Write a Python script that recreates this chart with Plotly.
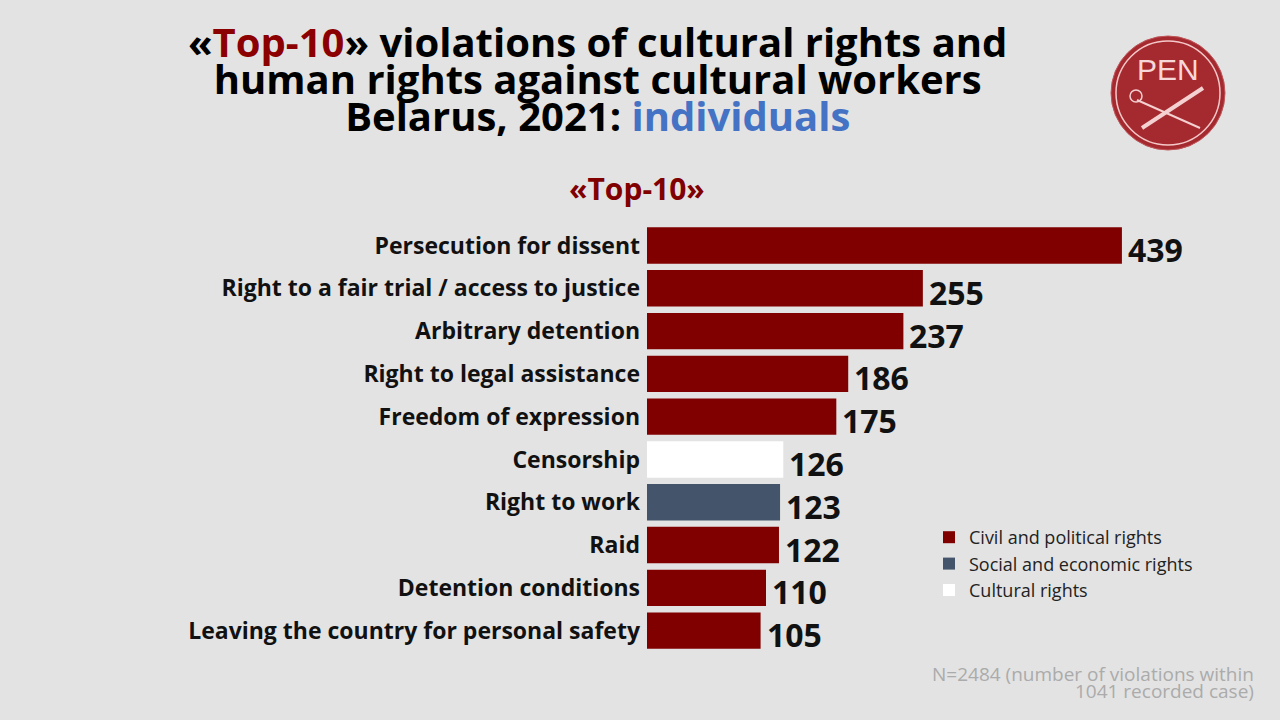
import plotly.graph_objects as go

categories = [
    "Persecution for dissent",
    "Right to a fair trial / access to justice",
    "Arbitrary detention",
    "Right to legal assistance",
    "Freedom of expression",
    "Censorship",
    "Right to work",
    "Raid",
    "Detention conditions",
    "Leaving the country for personal safety",
]
values = [439, 255, 237, 186, 175, 126, 123, 122, 110, 105]
groups = ["civil", "civil", "civil", "civil", "civil", "cultural", "social", "civil", "civil", "civil"]

group_order = ["civil", "social", "cultural"]
group_names = {
    "civil": "Civil and political rights",
    "social": "Social and economic rights",
    "cultural": "Cultural rights",
}
group_colors = {"civil": "#800000", "social": "#44546A", "cultural": "#FFFFFF"}

title_lines = [
    "«<span style='color:#8B0000'>Top-10</span>» violations of cultural rights and",
    "human rights against cultural workers",
    "Belarus, 2021: <span style='color:#4472C4'>individuals</span>",
]
subtitle = "«Top-10»"
footnote_lines = ["N=2484 (number of violations within", "1041 recorded case)"]

FONT = "Open Sans"

W, H = 1280, 720
ML, MR, MT, MB = 647, 38, 218, 68
pw, ph = W - ML - MR, H - MT - MB


def px(x):
    return (x - ML) / pw


def py(y):
    return (H - MB - y) / ph


fig = go.Figure()
for g in group_order:
    ys = [c for c, gg in zip(categories, groups) if gg == g]
    xs = [v for v, gg in zip(values, groups) if gg == g]
    fig.add_trace(go.Bar(
        x=xs, y=ys, orientation="h", name=group_names[g],
        marker=dict(color=group_colors[g], line=dict(width=0)),
        width=0.85, hoverinfo="x+y",
    ))

for c, v in zip(categories, values):
    fig.add_annotation(x=v, y=c, xref="x", yref="y", text=str(v), showarrow=False,
                       xanchor="left", xshift=4, yshift=-4,
                       font=dict(family=FONT, size=32, color="#111111", weight="bold"))

# Title (tight line spacing: small base font, larger inline spans)
title_text = "<br>".join(f"<span style='font-size:40px'>{t}</span>" for t in title_lines)
fig.add_annotation(x=px(597), y=py(78), xref="paper", yref="paper", text=title_text,
                   showarrow=False, xanchor="center", yanchor="middle", align="center",
                   font=dict(family=FONT, size=28.5, color="#000000", weight="bold"))

fig.add_annotation(text=subtitle, x=px(637), y=py(188), xref="paper", yref="paper",
                   showarrow=False, xanchor="center", yanchor="middle",
                   font=dict(family=FONT, size=30, color="#800000", weight="bold"))

foot_text = "<br>".join(f"<span style='font-size:19px'>{t}</span>" for t in footnote_lines)
fig.add_annotation(text=foot_text, x=px(1256), y=py(682), xref="paper", yref="paper",
                   showarrow=False, xanchor="right", yanchor="middle", align="right",
                   font=dict(family=FONT, size=13, color="#ABABAB"))

# PEN logo
cx, cy, r = 1168, 93, 57
fig.add_shape(type="circle", xref="paper", yref="paper",
              x0=px(cx - r), x1=px(cx + r), y0=py(cy - r), y1=py(cy + r),
              fillcolor="#A52A30", line=dict(color="#C0555A", width=1), layer="above")
fig.add_shape(type="circle", xref="paper", yref="paper",
              x0=px(cx - r + 5), x1=px(cx + r - 5), y0=py(cy - r + 5), y1=py(cy + r - 5),
              line=dict(color="#F4C8C8", width=1.5), layer="above")
fig.add_shape(type="line", xref="paper", yref="paper", x0=px(1137), y0=py(100), x1=px(1200), y1=py(128),
              line=dict(color="#F4D0D0", width=2), layer="above")
fig.add_shape(type="circle", xref="paper", yref="paper", x0=px(1130), y0=py(90), x1=px(1142), y1=py(102),
              line=dict(color="#F4D0D0", width=1.5), layer="above")
fig.add_shape(type="line", xref="paper", yref="paper", x0=px(1142), y0=py(128), x1=px(1203), y1=py(88),
              line=dict(color="#F4D0D0", width=4), layer="above")
fig.add_annotation(text="PEN", x=px(cx), y=py(cy - 24), xref="paper", yref="paper",
                   showarrow=False, xanchor="center", yanchor="middle",
                   font=dict(family="Liberation Sans", size=30, color="#F7D8D8"))

fig.update_layout(
    width=W, height=H,
    margin=dict(l=ML, r=MR, t=MT, b=MB, pad=0),
    paper_bgcolor="#E3E3E3", plot_bgcolor="rgba(0,0,0,0)",
    barmode="relative",
    showlegend=True,
    legend=dict(x=px(929), y=py(519), xanchor="left", yanchor="top",
                bgcolor="rgba(0,0,0,0)", font=dict(family=FONT, size=18, color="#222222"),
                traceorder="normal", tracegroupgap=0),
    xaxis=dict(range=[0, 550], visible=False, fixedrange=True),
    yaxis=dict(categoryorder="array", categoryarray=categories, autorange="reversed",
               showgrid=False, zeroline=False, showline=False, ticks="", ticklabelstandoff=6,
               tickfont=dict(family=FONT, size=23, color="#111111", weight="bold")),
)

fig.write_html("out.html", config={"displayModeBar": False},
               post_script="document.body.style.margin='0px';document.body.style.overflow='hidden';")
